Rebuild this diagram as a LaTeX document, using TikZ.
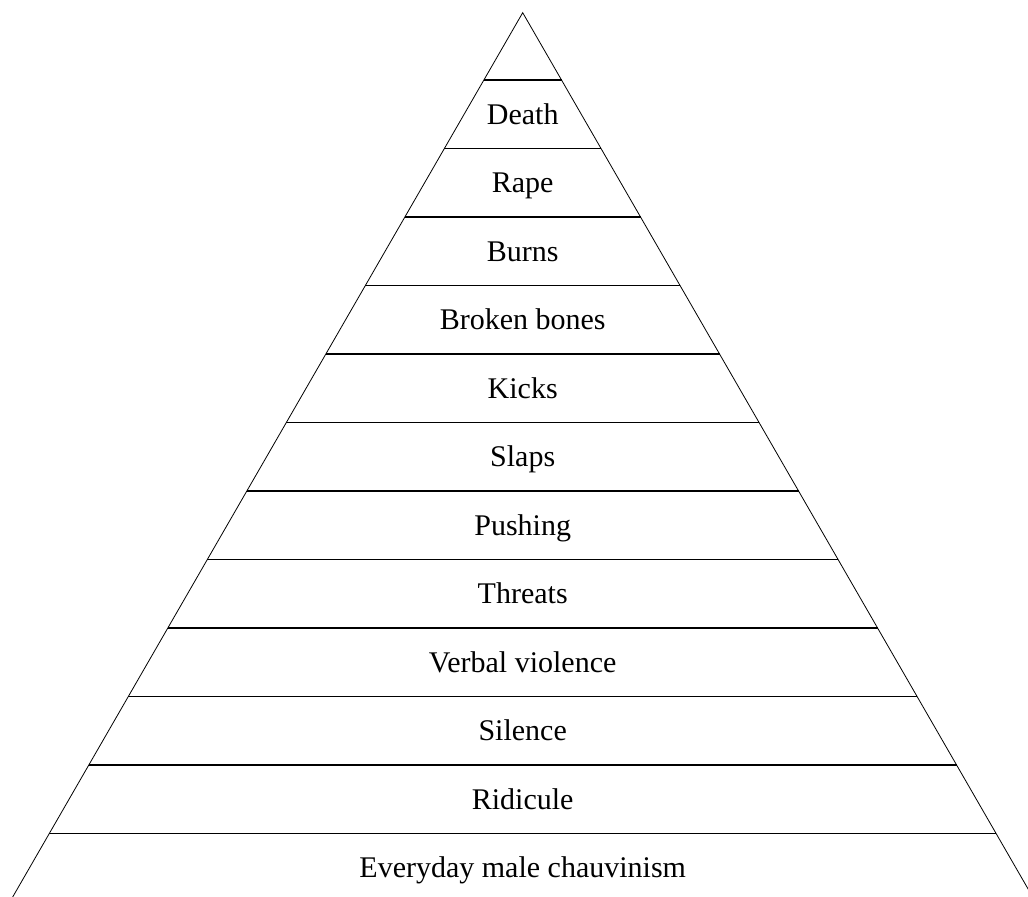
\documentclass[tikz,border=0pt]{standalone}
\usepackage{fontspec}
\setmainfont{Liberation Serif}
\usetikzlibrary{calc}

\begin{document}
\begin{tikzpicture}[x=0.75pt,y=-0.75pt,
        edge/.style={line width=0.6pt},
        band/.style={line width=0.9pt},
        level/.style={anchor=base,font=\fontsize{22.5}{27}\selectfont}]
            \useasboundingbox (0,0) rectangle (1028,896);

            \coordinate (apex) at (522.7,12.7);
            \coordinate (bl) at (9.5,902.5);
            \coordinate (br) at (1035.9,902.5);

            \draw [edge] (bl) -- (apex) -- (br);

            \foreach \lbl [count=\i from 0] in {Death,Rape,Burns,Broken bones,Kicks,Slaps,Pushing,Threats,Verbal violence,Silence,Ridicule,Everyday male chauvinism} {
                \coordinate (l\i) at ($(apex)!{(67.3+68.5*\i)/889.8}!(bl)$);
                \coordinate (r\i) at ($(apex)!{(67.3+68.5*\i)/889.8}!(br)$);
                \draw [band] (l\i) -- (r\i);
                \node (t\i) at (522.7,{124.25+68.5*\i}) [level] {\lbl};
            }
        \end{tikzpicture}
\end{document}
